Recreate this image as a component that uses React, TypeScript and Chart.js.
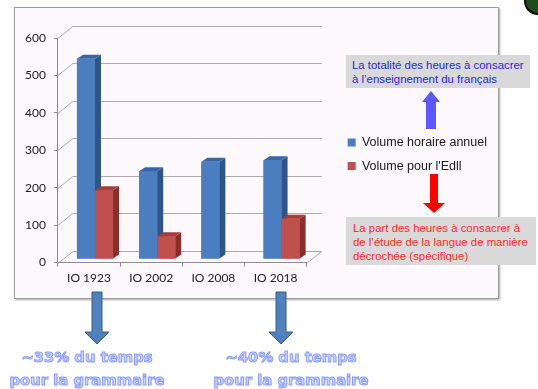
import React, { useEffect, useRef } from "react";
import { Chart, registerables } from "chart.js";

Chart.register(...registerables);

// ---- data ----
const categories = ["IO 1923", "IO 2002", "IO 2008", "IO 2018"];
const totalHours = [535, 235, 260, 264];
const edllHours: (number | null)[] = [184, 61, null, 108];
const seriesNames = ["Volume horaire annuel", "Volume pour l'Edll"];
const yMin = 0;
const yMax = 600;
const yStep = 100;

// ---- styles ----
const FRONT = ["#4a7ebf", "#c0504d"];
const SIDE = ["#2d5588", "#8a2e2c"];
const TOP = ["#3a67a3", "#a53d3a"];
const WALL_DX = 15;
const WALL_DY = 12;
const BAR_SHIFT_X = 6;
const BAR_SHIFT_Y = -3.5;
const BAR_DX = 6;
const BAR_DY = 4;

const threeD = {
  id: "threeD",
  beforeDatasetsDraw(chart: any) {
    const { ctx, chartArea: a, scales } = chart;
    const y = scales.y;
    ctx.save();
    ctx.strokeStyle = "#ababab";
    ctx.lineWidth = 1;
    ctx.beginPath();
    y.ticks.forEach((t: any) => {
      const py = Math.round(y.getPixelForValue(t.value)) + 0.5;
      ctx.moveTo(a.left, py);
      ctx.lineTo(a.left + WALL_DX, py - WALL_DY);
      ctx.lineTo(a.right + WALL_DX, py - WALL_DY);
    });
    const p0 = Math.round(y.getPixelForValue(0)) + 0.5;
    ctx.moveTo(a.right, p0);
    ctx.lineTo(a.right + WALL_DX, p0 - WALL_DY);
    ctx.stroke();
    ctx.restore();
    ctx.save();
    ctx.translate(BAR_SHIFT_X, BAR_SHIFT_Y);
  },
  afterDatasetsDraw(chart: any) {
    const { ctx } = chart;
    const n = chart.data.labels.length;
    for (let i = 0; i < n; i++) {
      chart.data.datasets.forEach((ds: any, di: number) => {
        const v = ds.data[i];
        if (v === null || v === undefined || v === 0) return;
        const el = chart.getDatasetMeta(di).data[i];
        const { x, y, base, width } = el.getProps(["x", "y", "base", "width"], true);
        const l = x - width / 2;
        const r = x + width / 2;
        ctx.fillStyle = FRONT[di];
        ctx.fillRect(l, y, width, base - y);
        ctx.fillStyle = SIDE[di];
        ctx.beginPath();
        ctx.moveTo(r, y);
        ctx.lineTo(r + BAR_DX, y - BAR_DY);
        ctx.lineTo(r + BAR_DX, base - BAR_DY);
        ctx.lineTo(r, base);
        ctx.closePath();
        ctx.fill();
        ctx.fillStyle = TOP[di];
        ctx.beginPath();
        ctx.moveTo(l, y);
        ctx.lineTo(l + BAR_DX, y - BAR_DY);
        ctx.lineTo(r + BAR_DX, y - BAR_DY);
        ctx.lineTo(r, y);
        ctx.closePath();
        ctx.fill();
      });
    }
    ctx.restore();
  },
};

function ChartCanvas() {
  const ref = useRef<HTMLCanvasElement>(null);
  useEffect(() => {
    if (!ref.current) return;
    const chart = new Chart(ref.current, {
      type: "bar",
      data: {
        labels: categories,
        datasets: [
          { label: seriesNames[0], data: totalHours, backgroundColor: FRONT[0], clip: false as any },
          { label: seriesNames[1], data: edllHours, backgroundColor: FRONT[1], clip: false as any },
        ],
      },
      options: {
        responsive: false,
        animation: false,
        layout: { padding: { left: 17, top: 38, right: 41, bottom: 100 } },
        datasets: { bar: { categoryPercentage: 0.58, barPercentage: 1.0 } } as any,
        scales: {
          x: {
            grid: { display: true, drawOnChartArea: false, tickLength: 4, color: "#8c8c8c" },
            border: { display: true, color: "#8c8c8c" },
            ticks: { padding: 4, color: "#222", font: { family: "Lato", size: 12 } },
          },
          y: {
            min: yMin,
            max: yMax,
            grid: { display: true, drawOnChartArea: false, tickLength: 4, color: "#8c8c8c" },
            border: { display: true, color: "#8c8c8c" },
            ticks: { stepSize: yStep, padding: 8, color: "#222", font: { family: "Lato", size: 12 } },
          },
          gap: {
            type: "linear",
            position: "right",
            display: true,
            grid: { display: false },
            border: { display: false },
            ticks: { display: false },
            afterFit: (s: any) => {
              s.width = 30;
            },
          } as any,
        },
        plugins: {
          legend: {
            position: "right",
            align: "center",
            fullSize: false,
            maxWidth: 220,
            title: { display: true, text: "", font: { size: 1 }, padding: { top: 3.4, bottom: 3.4 } },
            labels: {
              boxWidth: 8,
              boxHeight: 8,
              padding: 11,
              color: "#1a1a1a",
              font: { family: "Liberation Sans", size: 12.5 },
            },
          } as any,
          tooltip: { enabled: false },
        },
      },
      plugins: [threeD],
    });
    return () => chart.destroy();
  }, []);
  return (
    <canvas
      ref={ref}
      width={538}
      height={389}
      style={{ position: "absolute", left: 0, top: 0, width: 538, height: 389 }}
    />
  );
}

function Arrow({ cx, y1, y2, shaft, head, headLen, fill, stroke, up }: any) {
  let pts: number[][];
  if (up) {
    const hb = y1 + headLen;
    pts = [
      [cx, y1],
      [cx + head / 2, hb],
      [cx + shaft / 2, hb],
      [cx + shaft / 2, y2],
      [cx - shaft / 2, y2],
      [cx - shaft / 2, hb],
      [cx - head / 2, hb],
    ];
  } else {
    const hb = y2 - headLen;
    pts = [
      [cx - shaft / 2, y1],
      [cx + shaft / 2, y1],
      [cx + shaft / 2, hb],
      [cx + head / 2, hb],
      [cx, y2],
      [cx - head / 2, hb],
      [cx - shaft / 2, hb],
    ];
  }
  return (
    <polygon
      points={pts.map((p) => p.join(",")).join(" ")}
      fill={fill}
      stroke={stroke || "none"}
      strokeWidth={stroke ? 1 : 0}
    />
  );
}

const bottomTextStyle: React.CSSProperties = {
  position: "absolute",
  width: 200,
  textAlign: "center",
  fontFamily: "DejaVu Sans",
  fontWeight: "bold",
  fontSize: 14.8,
  lineHeight: "23px",
  color: "#cdd5ff",
  WebkitTextStroke: "1px #8a9dff",
  whiteSpace: "nowrap",
};

export default function App() {
  return (
    <div
      style={{
        position: "fixed",
        left: 0,
        top: 0,
        width: 538,
        height: 389,
        overflow: "hidden",
        background: "#ffffff",
      }}
    >
      <div
        style={{
          position: "absolute",
          left: 14,
          top: 7,
          width: 485,
          height: 292,
          boxSizing: "border-box",
          border: "1px solid #9c9c9c",
          background: "#fcf8fc",
          boxShadow: "1px 1px 2px rgba(0,0,0,0.35)",
        }}
      />
      <ChartCanvas />
      <div
        style={{
          position: "absolute",
          left: 524,
          top: -13,
          width: 28,
          height: 28,
          boxSizing: "border-box",
          borderRadius: "50%",
          background: "#1d4d1d",
          border: "2px solid #0a0a0a",
        }}
      />
      <div
        style={{
          position: "absolute",
          left: 346,
          top: 55,
          width: 184,
          height: 33,
          boxSizing: "border-box",
          padding: "3px 0 0 6px",
          background: "#d9d9d9",
          color: "#2727d9",
          fontFamily: "Liberation Sans",
          fontSize: 11.4,
          lineHeight: "14px",
          whiteSpace: "nowrap",
        }}
      >
        <div>La totalité des heures à consacrer</div>
        <div>à l’enseignement du français</div>
      </div>
      <div
        style={{
          position: "absolute",
          left: 346,
          top: 217,
          width: 190,
          height: 48,
          boxSizing: "border-box",
          padding: "4px 0 0 7px",
          background: "#d9d9d9",
          color: "#ff2a2a",
          fontFamily: "Liberation Sans",
          fontSize: 11.4,
          lineHeight: "14px",
          whiteSpace: "nowrap",
        }}
      >
        <div>La part des heures à consacrer à</div>
        <div>de l’étude de la langue de manière</div>
        <div>décrochée (spécifique)</div>
      </div>
      <svg
        width={538}
        height={389}
        style={{ position: "absolute", left: 0, top: 0, pointerEvents: "none" }}
      >
        <Arrow cx={431} y1={91} y2={129} shaft={10} head={18} headLen={11} fill="#5959ff" up />
        <Arrow cx={434} y1={174} y2={213} shaft={8} head={22} headLen={10} fill="#ff0000" />
        <Arrow cx={97} y1={292} y2={344} shaft={10} head={24} headLen={12} fill="#4f81bd" stroke="#385d8a" />
        <Arrow cx={281} y1={292} y2={344} shaft={10} head={24} headLen={12} fill="#4f81bd" stroke="#385d8a" />
      </svg>
      <div style={{ ...bottomTextStyle, left: 87 - 100, top: 345 }}>
        <div>~33% du temps</div>
        <div>pour la grammaire</div>
      </div>
      <div style={{ ...bottomTextStyle, left: 291 - 100, top: 345 }}>
        <div>~40% du temps</div>
        <div>pour la grammaire</div>
      </div>
    </div>
  );
}
